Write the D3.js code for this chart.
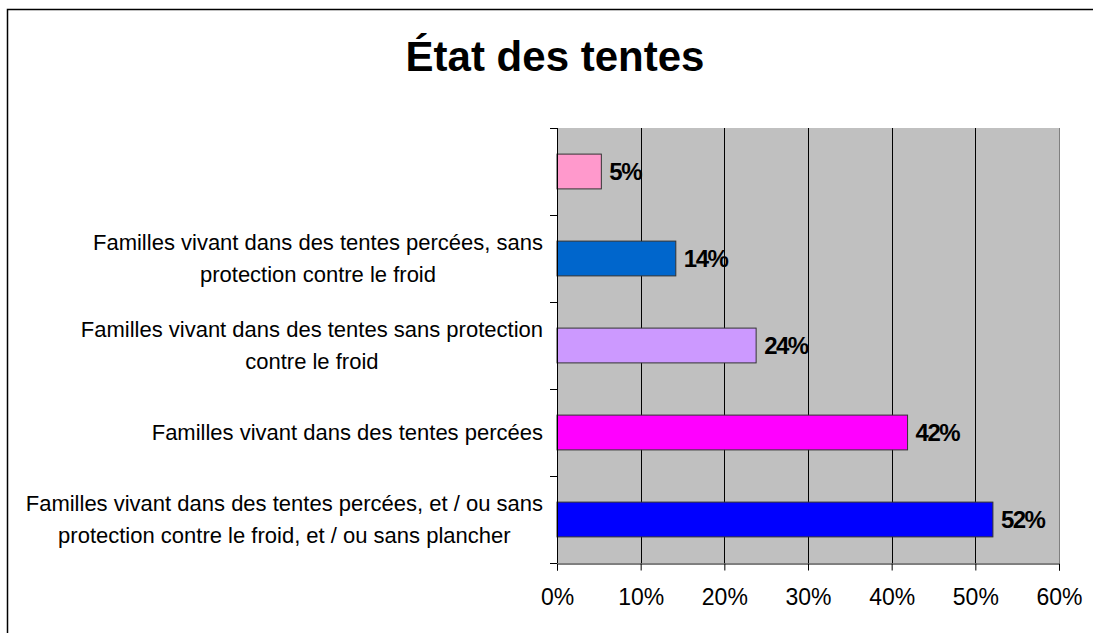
<!DOCTYPE html>
<html>
<head>
<meta charset="utf-8">
<script src="https://cdn.jsdelivr.net/npm/d3@7"></script>
<style>
  body { margin: 0; background: #fff; }
  svg { display: block; font-family: "Liberation Sans", Arial, sans-serif; }
</style>
</head>
<body>
<svg id="chart" width="1093" height="633"></svg>
<script>
// categories, top to bottom (the first one has no label in the source)
const categories = [
  [""],
  ["Familles vivant dans des tentes percées, sans", "protection contre le froid"],
  ["Familles vivant dans des tentes sans protection", "contre le froid"],
  ["Familles vivant dans des tentes percées"],
  ["Familles vivant dans des tentes percées, et / ou sans", "protection contre le froid, et / ou sans plancher"]
];
const values = [0.053, 0.142, 0.238, 0.419, 0.521];
const barColors = ["#FF99CC", "#0066CC", "#CC99FF", "#FF00FF", "#0000FF"];
const xTicks = [0, 0.1, 0.2, 0.3, 0.4, 0.5, 0.6];
const title = "État des tentes";

const svg = d3.select("#chart");

// outer frame (runs off the right and bottom edges)
svg.append("rect")
  .attr("x", 7.5).attr("y", 9.5)
  .attr("width", 1100).attr("height", 640)
  .attr("fill", "none")
  .attr("stroke", "#000")
  .attr("stroke-width", 1.5);

svg.append("text")
  .attr("x", 555).attr("y", 71)
  .attr("text-anchor", "middle")
  .attr("font-size", 42)
  .attr("font-weight", "bold")
  .text(title);

const x = d3.scaleLinear().domain([0, 0.6]).range([557, 1059]);
const y = d3.scaleBand()
  .domain(d3.range(categories.length))
  .range([128, 563])
  .paddingInner(0.6)
  .paddingOuter(0.3);
const step = y.step();

// plot background
svg.append("rect")
  .attr("x", x(0)).attr("y", 128)
  .attr("width", x(0.6) - x(0)).attr("height", 563 - 128)
  .attr("fill", "#C0C0C0");

// vertical gridlines
svg.append("g")
  .selectAll("line")
  .data(xTicks.slice(1))
  .join("line")
  .attr("x1", d => Math.round(x(d)) + 0.5)
  .attr("x2", d => Math.round(x(d)) + 0.5)
  .attr("y1", 128).attr("y2", 563)
  .attr("stroke", d => d === 0.6 ? "#808080" : "#000")
  .attr("stroke-width", 1);

// bars
svg.append("g")
  .selectAll("rect")
  .data(values)
  .join("rect")
  .attr("x", x(0))
  .attr("y", (d, i) => y(i))
  .attr("width", d => x(d) - x(0))
  .attr("height", y.bandwidth())
  .attr("fill", (d, i) => barColors[i])
  .attr("stroke", "#333")
  .attr("stroke-width", 1);

// value labels
svg.append("g")
  .selectAll("text")
  .data(values)
  .join("text")
  .attr("x", d => x(d) + 8)
  .attr("y", (d, i) => y(i) + y.bandwidth() / 2)
  .attr("dy", "0.36em")
  .attr("font-size", 24)
  .attr("font-weight", "bold")
  .attr("letter-spacing", -1.5)
  .text(d => Math.round(d * 100) + "%");

// x axis
const xAxis = svg.append("g")
  .attr("transform", "translate(0,563.5)")
  .call(d3.axisBottom(x).tickValues(xTicks).tickFormat(d3.format(".0%")).tickSize(7).tickPadding(18));
xAxis.select(".domain").attr("stroke", "#000");
xAxis.selectAll("text")
  .attr("font-size", 23)
  .attr("font-family", "Liberation Sans, Arial, sans-serif")
  .attr("fill", "#000");

// y axis: line plus ticks between categories
const yLine = svg.append("g");
yLine.append("line")
  .attr("x1", 557.5).attr("x2", 557.5)
  .attr("y1", 128).attr("y2", 563)
  .attr("stroke", "#000");
yLine.selectAll(".ytick")
  .data(d3.range(categories.length + 1))
  .join("line")
  .attr("class", "ytick")
  .attr("x1", 550).attr("x2", 557)
  .attr("y1", i => Math.round(128 + i * step) + 0.5)
  .attr("y2", i => Math.round(128 + i * step) + 0.5)
  .attr("stroke", "#000");

// category labels, centred block with widest line ending near the axis
const labelRight = 543;
const lineH = 32;
categories.forEach((lines, i) => {
  const cy = y(i) + y.bandwidth() / 2;
  const t = svg.append("text")
    .attr("font-size", 22)
    .attr("text-anchor", "middle");
  lines.forEach((ln, k) => {
    t.append("tspan")
      .attr("y", cy + (k - (lines.length - 1) / 2) * lineH)
      .attr("dy", "0.35em")
      .text(ln);
  });
  let w = 0;
  t.selectAll("tspan").each(function() { w = Math.max(w, this.getComputedTextLength()); });
  t.selectAll("tspan").attr("x", labelRight - w / 2);
});
</script>
</body>
</html>
